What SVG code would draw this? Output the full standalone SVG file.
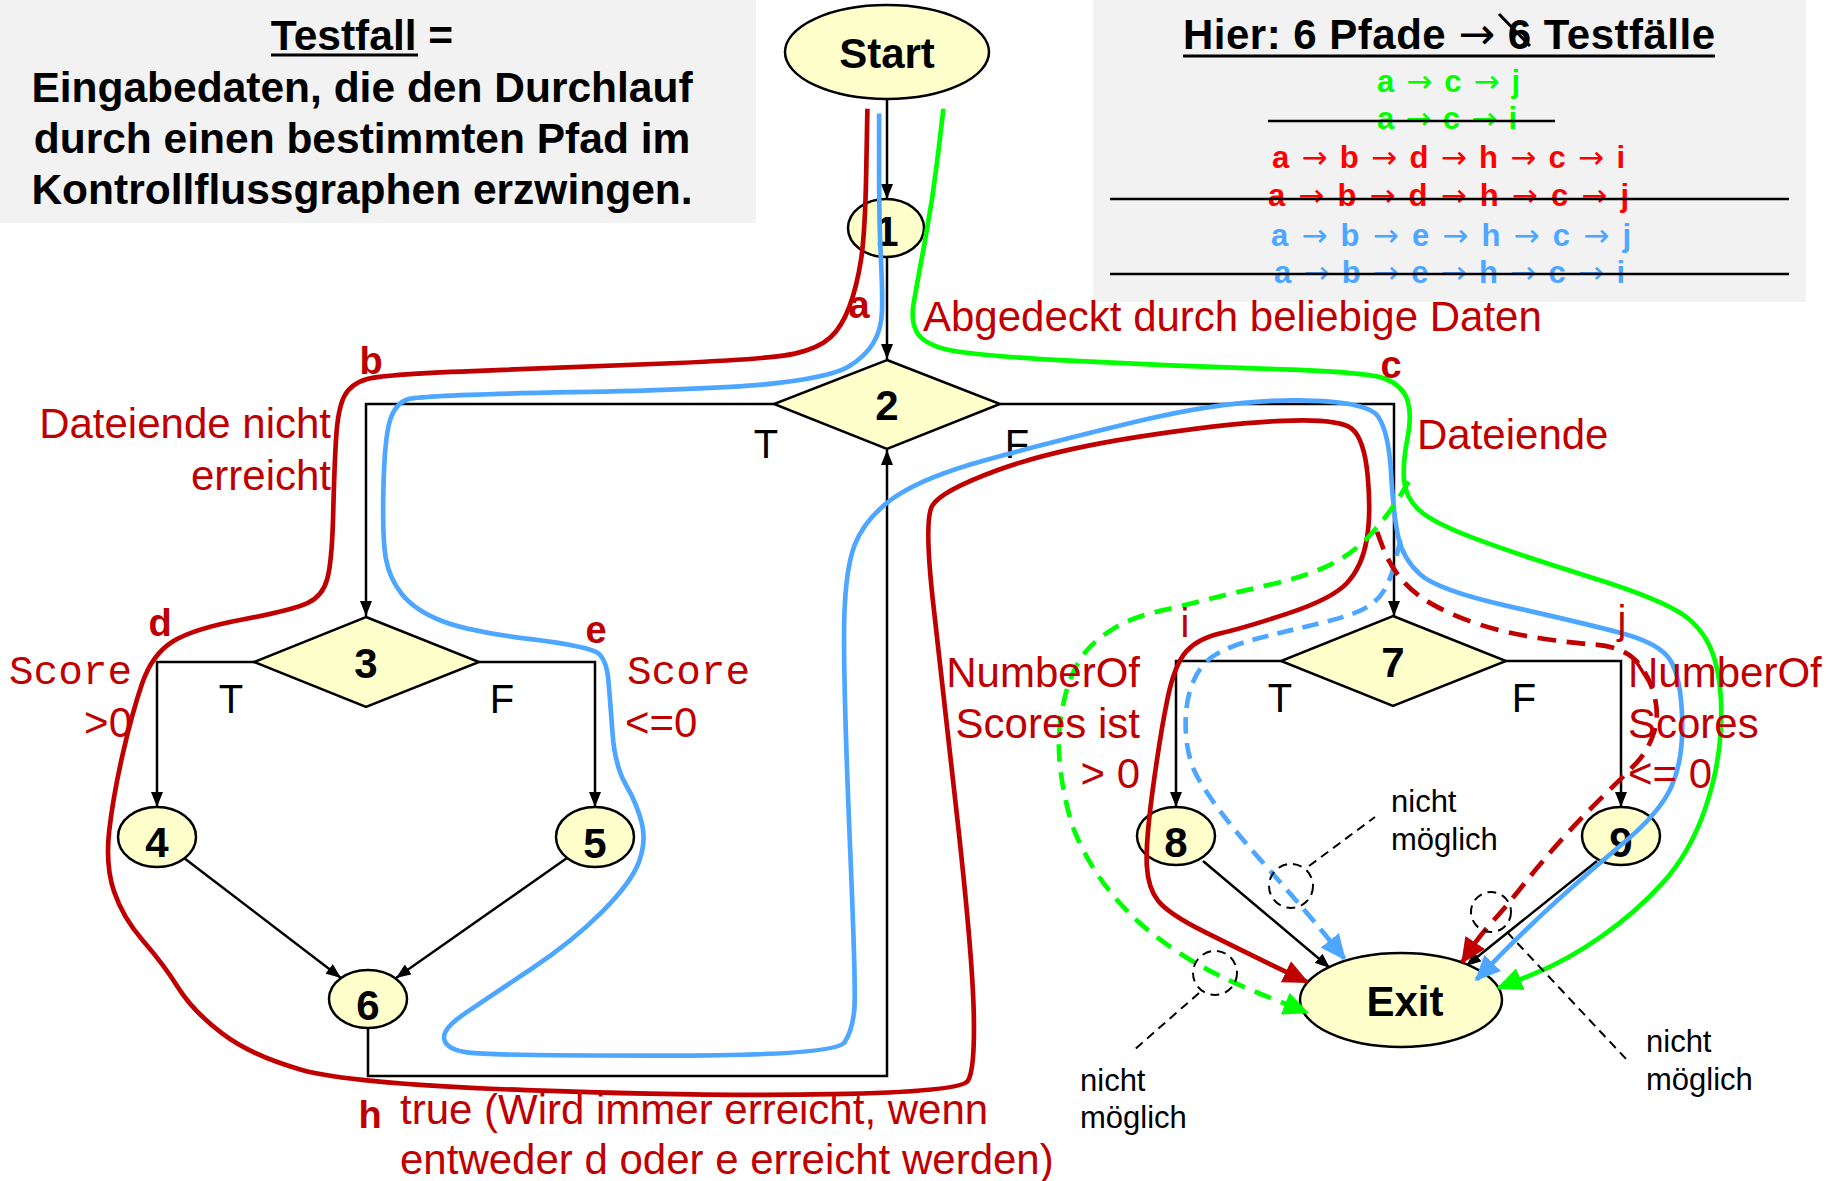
<svg xmlns="http://www.w3.org/2000/svg" width="1833" height="1181" viewBox="0 0 1833 1181">
<defs>
<marker id="ab" markerUnits="userSpaceOnUse" markerWidth="16" markerHeight="12" refX="15" refY="6" orient="auto"><path d="M0,0 L15,6 L0,12 Z" fill="#000"/></marker>
<marker id="ar" markerUnits="userSpaceOnUse" markerWidth="24" markerHeight="20" refX="20" refY="10" orient="auto"><path d="M0,0 L22,10 L0,20 Z" fill="#c00000"/></marker>
<marker id="ag" markerUnits="userSpaceOnUse" markerWidth="24" markerHeight="20" refX="20" refY="10" orient="auto"><path d="M0,0 L22,10 L0,20 Z" fill="#00ff00"/></marker>
<marker id="abl" markerUnits="userSpaceOnUse" markerWidth="24" markerHeight="20" refX="20" refY="10" orient="auto"><path d="M0,0 L22,10 L0,20 Z" fill="#4da6ff"/></marker>
</defs>
<style>
.t { font-family: "Liberation Sans", Arial, "DejaVu Sans", sans-serif; }
.m { font-family: "Liberation Mono", "Courier New", monospace; }
.b { font-weight: bold; }
.arr { font-family: "DejaVu Sans", sans-serif; font-weight: normal; }
.node { fill: #ffffcc; stroke: #000; stroke-width: 2.5; }
.num { font-family: "Liberation Sans", Arial, sans-serif; font-weight: bold; font-size: 42px; text-anchor: middle; fill: #000; }
.conn { fill: none; stroke: #000; stroke-width: 2.5; }
.dr { fill: #c00000; }
.pth { fill: none; stroke-width: 4; stroke-linecap: butt; stroke-linejoin: round; }
.dash { fill: none; stroke: #000; stroke-width: 2; stroke-dasharray: 9 6; }
.strike { stroke: #000; stroke-width: 2.5; }
</style>

<!-- info boxes -->
<g id="box-testfall">
<rect x="0" y="0" width="756" height="223" fill="#f2f2f2"/>
<text class="t b" font-size="42.5" text-anchor="middle" x="362" y="50">Testfall =</text>
<line x1="271" y1="55" x2="418" y2="55" stroke="#000" stroke-width="3"/>
<text class="t b" font-size="42.5" text-anchor="middle" x="362" y="102">Eingabedaten, die den Durchlauf</text>
<text class="t b" font-size="42.5" text-anchor="middle" x="362" y="153">durch einen bestimmten Pfad im</text>
<text class="t b" font-size="42.5" text-anchor="middle" x="362" y="204">Kontrollflussgraphen erzwingen.</text>
</g>

<g id="box-pfade">
<rect x="1093" y="0" width="713" height="302" fill="#f2f2f2"/>
<text class="t b" font-size="42" x="1183" y="49" textLength="532" lengthAdjust="spacing">Hier: 6 Pfade <tspan class="arr" font-weight="bold" font-size="44">→</tspan> 6 Testfälle</text>
<line x1="1183" y1="56" x2="1715" y2="56" stroke="#000" stroke-width="3"/>
<line x1="1499" y1="14" x2="1530" y2="46" stroke="#000" stroke-width="3"/>
<g class="t b" font-size="31">
<text fill="#00ff00" x="1377" y="92" textLength="143" lengthAdjust="spacing">a <tspan class="arr">→</tspan> c <tspan class="arr">→</tspan> j</text>
<text fill="#00ff00" x="1377" y="129" textLength="140" lengthAdjust="spacing">a <tspan class="arr">→</tspan> c <tspan class="arr">→</tspan> i</text>
<text fill="#ff0000" x="1272" y="168" textLength="353" lengthAdjust="spacing">a <tspan class="arr">→</tspan> b <tspan class="arr">→</tspan> d <tspan class="arr">→</tspan> h <tspan class="arr">→</tspan> c <tspan class="arr">→</tspan> i</text>
<text fill="#ff0000" x="1268" y="206" textLength="361" lengthAdjust="spacing">a <tspan class="arr">→</tspan> b <tspan class="arr">→</tspan> d <tspan class="arr">→</tspan> h <tspan class="arr">→</tspan> c <tspan class="arr">→</tspan> j</text>
<text fill="#4da6ff" x="1271" y="246" textLength="360" lengthAdjust="spacing">a <tspan class="arr">→</tspan> b <tspan class="arr">→</tspan> e <tspan class="arr">→</tspan> h <tspan class="arr">→</tspan> c <tspan class="arr">→</tspan>  j</text>
<text fill="#4da6ff" x="1274" y="283" textLength="351" lengthAdjust="spacing">a <tspan class="arr">→</tspan> b <tspan class="arr">→</tspan> e <tspan class="arr">→</tspan> h <tspan class="arr">→</tspan> c <tspan class="arr">→</tspan> i</text>
</g>
<line class="strike" x1="1268" y1="121" x2="1555" y2="121"/>
<line class="strike" x1="1110" y1="199" x2="1789" y2="199"/>
<line class="strike" x1="1110" y1="274" x2="1789" y2="274"/>
</g>

<!-- connectors -->
<g id="connectors">
<path class="conn" d="M887,99 L887,199" marker-end="url(#ab)"/>
<path class="conn" d="M887,257 L887,359" marker-end="url(#ab)"/>
<path class="conn" d="M774,404 L366,404 L366,616" marker-end="url(#ab)"/>
<path class="conn" d="M1000,404 L1394,404 L1394,616" marker-end="url(#ab)"/>
<path class="conn" d="M254,662 L157,662 L157,807" marker-end="url(#ab)"/>
<path class="conn" d="M479,662 L595,662 L595,807" marker-end="url(#ab)"/>
<path class="conn" d="M184,858 L341,978" marker-end="url(#ab)"/>
<path class="conn" d="M567,858 L396,978" marker-end="url(#ab)"/>
<path class="conn" d="M368,1028 L368,1076 L887,1076 L887,450" marker-end="url(#ab)"/>
<path class="conn" d="M1281,661 L1176,661 L1176,807" marker-end="url(#ab)"/>
<path class="conn" d="M1506,661 L1621,661 L1621,807" marker-end="url(#ab)"/>
<path class="conn" d="M1203,861 L1330,968" marker-end="url(#ab)"/>
<path class="conn" d="M1597,861 L1466,966" marker-end="url(#ab)"/>
</g>

<!-- nodes -->
<g id="node-start"><ellipse class="node" cx="887" cy="52" rx="102" ry="47"/><text class="num" x="887" y="68">Start</text></g>
<g id="node-1"><ellipse class="node" cx="886" cy="228" rx="38" ry="29"/><text class="num" x="887" y="246">1</text></g>
<g id="node-2"><polygon class="node" points="887,360 1000,404 887,449 774,404"/><text class="num" x="887" y="420">2</text></g>
<g id="node-3"><polygon class="node" points="366,617 479,662 366,707 254,662"/><text class="num" x="366" y="678">3</text></g>
<g id="node-4"><ellipse class="node" cx="157" cy="837" rx="39" ry="30"/><text class="num" x="157" y="857">4</text></g>
<g id="node-5"><ellipse class="node" cx="595" cy="837" rx="39" ry="30"/><text class="num" x="595" y="858">5</text></g>
<g id="node-6"><ellipse class="node" cx="368" cy="999" rx="39" ry="29"/><text class="num" x="368" y="1020">6</text></g>
<g id="node-7"><polygon class="node" points="1393,616 1506,661 1393,706 1281,661"/><text class="num" x="1393" y="677">7</text></g>
<g id="node-8"><ellipse class="node" cx="1176" cy="836" rx="39" ry="29"/><text class="num" x="1176" y="857">8</text></g>
<g id="node-9"><ellipse class="node" cx="1621" cy="836" rx="39" ry="29"/><text class="num" x="1621" y="857">9</text></g>
<g id="node-exit"><ellipse class="node" cx="1401" cy="1000" rx="101" ry="47"/><text class="num" x="1405" y="1016">Exit</text></g>

<!-- branch labels -->
<g id="branch-labels" class="t" font-size="40" text-anchor="middle">
<text x="766" y="458">T</text>
<text x="1017" y="458">F</text>
<text x="231" y="713">T</text>
<text x="502" y="713">F</text>
<text x="1280" y="712">T</text>
<text x="1524" y="712">F</text>
</g>

<!-- coloured test paths -->
<g id="testpaths" transform="scale(1.169)">
<path class="pth" stroke="#c00000" marker-end="url(#ar)" d="M742,93 L741,146.5 Q740,200 736.5,222.5 Q733,245 726.5,262.5 Q720,280 710,289 Q700,298 680,302.5 Q660,307 580,310.5 Q500,314 415,317 Q330,320 315,324 Q300,328 294.5,339 Q289,350 287.5,375 Q286,400 285,440 Q284,480 280,495 Q276,510 263,516 Q250,522 207.5,530 Q165,538 147.5,549 Q130,560 121.5,585 Q113,610 105,645 Q97,680 93.5,710 Q90,740 97.5,762.5 Q105,785 122.5,805 Q140,825 152.5,845 Q165,865 190,884 Q215,903 257.5,915 Q300,927 450,932.5 Q600,938 711,936 Q822,934 828,924.5 Q834,915 833,867.5 Q832,820 820,710 Q808,600 799,522.5 Q790,445 797.5,432.5 Q805,420 852.5,402.5 Q900,385 975,373.5 Q1050,362 1097.5,360 Q1145,358 1156,366.5 Q1167,375 1170,407.5 Q1173,440 1169,462.5 Q1165,485 1152.5,498.5 Q1140,512 1102.5,524.5 Q1065,537 1045,541.5 Q1025,546 1015,557 Q1005,568 999,596.5 Q993,625 986.5,672.5 Q980,720 981,740 Q982,760 991,771 Q1000,782 1030,797 Q1060,812 1089,826 L1118,840"/>
<path class="pth" stroke="#4da6ff" marker-end="url(#abl)" d="M752,97 L752,143.5 Q752,190 753.5,220 Q755,250 754.5,266 Q754,282 747,293.5 Q740,305 726,313.5 Q712,322 666,327.5 Q620,333 490,335.5 Q360,338 349,341.5 Q338,345 333.5,360 Q329,375 328,417.5 Q327,460 330,477.5 Q333,495 344,508.5 Q355,522 377.5,531 Q400,540 452.5,546.5 Q505,553 512,559 Q519,565 520.5,582.5 Q522,600 524,627.5 Q526,655 535.5,671.5 Q545,688 549,704 Q553,720 546.5,737.5 Q540,755 515,780 Q490,805 455,828.5 Q420,852 399,866 Q378,880 380,889 Q382,898 401,900.5 Q420,903 567.5,903 Q715,903 722.5,891.5 Q730,880 731,860 Q732,840 727,720 Q722,600 722,545 Q722,490 731,466.5 Q740,443 765,425.5 Q790,408 845,393 Q900,378 975,360 Q1050,342 1110,342.5 Q1170,343 1179,356.5 Q1188,370 1190,405 Q1192,440 1196,459 Q1200,478 1215,491.5 Q1230,505 1290,518.5 Q1350,532 1385,541 Q1420,550 1429,565 Q1438,580 1439,615 Q1440,650 1430,672.5 Q1420,695 1390,720 Q1360,745 1332.5,770 Q1305,795 1284,816.5 L1263,838"/>
<path class="pth" stroke="#00ff00" marker-end="url(#ag)" d="M807,93 L802.5,131.5 Q798,170 791,207.5 Q784,245 781.5,260 Q779,275 784.5,284.5 Q790,294 810,299 Q830,304 915,308.5 Q1000,313 1085,315.5 Q1170,318 1185,324 Q1200,330 1204,342.5 Q1208,355 1204,375 Q1200,395 1201,410 Q1202,425 1213.5,436 Q1225,447 1262.5,461 Q1300,475 1360,493.5 Q1420,512 1440,526 Q1460,540 1467,565 Q1474,590 1472,625 Q1470,660 1457.5,695 Q1445,730 1422.5,755 Q1400,780 1370,801 Q1340,822 1311,833.5 L1282,845"/>
<path class="pth" stroke="#00ff00" stroke-dasharray="15 9" marker-end="url(#ag)" d="M1205,412 L1197.5,424.5 Q1190,437 1175,454.5 Q1160,472 1139,482.5 Q1118,493 1089,499.5 Q1060,506 1036,512 Q1012,518 990.5,523 Q969,528 954.5,536.5 Q940,545 931,555 Q922,565 916,580 Q910,595 907,617.5 Q904,640 908.5,668 Q913,696 920,713 Q927,730 938.5,747.5 Q950,765 967.5,782.5 Q985,800 1012.5,817.5 Q1040,835 1079,850.5 L1118,866"/>
<path class="pth" stroke="#4da6ff" stroke-dasharray="14 8" marker-end="url(#abl)" d="M1198,462 L1194,478.5 Q1190,495 1184,505 Q1178,515 1166.5,521 Q1155,527 1127.5,533.5 Q1100,540 1075,546.5 Q1050,553 1037.5,561.5 Q1025,570 1019,587.5 Q1013,605 1014.5,627.5 Q1016,650 1024.5,665 Q1033,680 1046.5,697.5 Q1060,715 1080,737.5 Q1100,760 1115,777.5 Q1130,795 1140,807.5 L1150,820"/>
<path class="pth" stroke="#c00000" stroke-dasharray="16 9" marker-end="url(#ar)" d="M1178,455 L1183,468.5 Q1188,482 1198,494.5 Q1208,507 1225.5,517 Q1243,527 1266.5,534.5 Q1290,542 1317.5,546 Q1345,550 1365,551.5 Q1385,553 1396.5,562.5 Q1408,572 1414,591 Q1420,610 1415,626 Q1410,642 1400,652.5 Q1390,663 1372.5,680 Q1355,697 1336.5,717.5 Q1318,738 1303,757 Q1288,776 1277,788 Q1266,800 1258.5,811.5 L1251,823"/>
</g>

<!-- path segment labels -->
<g id="segment-labels" class="t dr">
<text class="b" font-size="38" text-anchor="middle" x="859" y="318">a</text>
<text class="b" font-size="38" text-anchor="middle" x="371" y="374">b</text>
<text class="b" font-size="38" text-anchor="middle" x="1391" y="378">c</text>
<text class="b" font-size="38" text-anchor="middle" x="160" y="636">d</text>
<text class="b" font-size="38" text-anchor="middle" x="596" y="643">e</text>
<text class="b" font-size="38" text-anchor="middle" x="370" y="1128">h</text>
<text font-size="40" text-anchor="middle" x="1185" y="637">i</text>
<text font-size="40" text-anchor="middle" x="1622" y="634">j</text>
</g>

<!-- condition annotations -->
<g id="annotations" class="t dr" font-size="42">
<text x="923" y="331">Abgedeckt durch beliebige Daten</text>
<text x="331" y="438" text-anchor="end">Dateiende nicht</text>
<text x="331" y="490" text-anchor="end">erreicht</text>
<text x="1417" y="449">Dateiende</text>
<text class="m" font-size="41" x="9" y="684">Score</text>
<text x="132" y="737" text-anchor="end">&gt;0</text>
<text class="m" font-size="41" x="627" y="684">Score</text>
<text x="625" y="737">&lt;=0</text>
<text x="1140" y="687" text-anchor="end">NumberOf</text>
<text x="1140" y="738" text-anchor="end">Scores ist</text>
<text x="1140" y="788" text-anchor="end">&gt; 0</text>
<text x="1628" y="687">NumberOf</text>
<text x="1628" y="738">Scores</text>
<text x="1628" y="788">&lt;= 0</text>
<text x="400" y="1124">true (Wird immer erreicht, wenn</text>
<text x="400" y="1174">entweder d oder e erreicht werden)</text>
</g>

<!-- "nicht möglich" notes -->
<g id="notes">
<circle class="dash" cx="1291" cy="886" r="22"/>
<line class="dash" x1="1309" y1="866" x2="1375" y2="817"/>
<circle class="dash" cx="1215" cy="973" r="22"/>
<line class="dash" x1="1199" y1="993" x2="1134" y2="1050"/>
<circle class="dash" cx="1491" cy="912" r="20"/>
<line class="dash" x1="1507" y1="932" x2="1627" y2="1060"/>
<g class="t" font-size="31" fill="#000">
<text x="1391" y="812">nicht</text>
<text x="1391" y="850">möglich</text>
<text x="1080" y="1091">nicht</text>
<text x="1080" y="1128">möglich</text>
<text x="1646" y="1052">nicht</text>
<text x="1646" y="1090">möglich</text>
</g>
</g>
</svg>
